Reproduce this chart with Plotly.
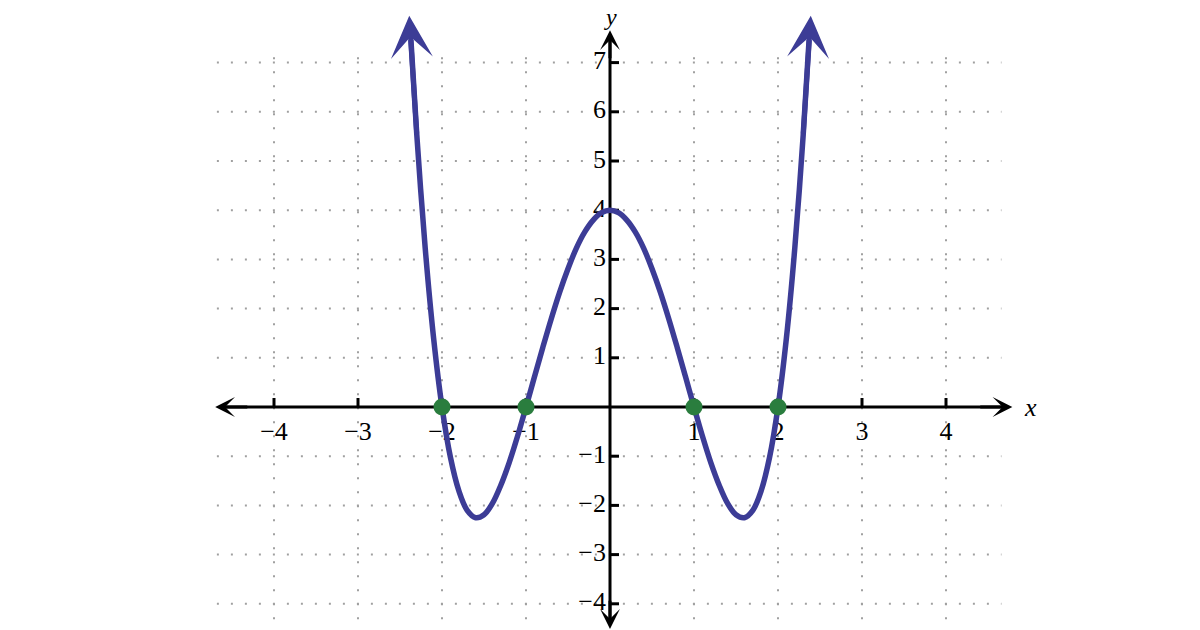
import plotly.graph_objects as go

# ---- data ----
curve_x = [-2.37, -2.3, -2.2, -2.1, -2.0, -1.9, -1.8, -1.7, -1.6, -1.5, -1.4, -1.3, -1.2, -1.1,
           -1.0, -0.9, -0.8, -0.7, -0.6, -0.5, -0.4, -0.3, -0.2, -0.1, 0.0,
           0.1, 0.2, 0.3, 0.4, 0.5, 0.6, 0.7, 0.8, 0.9, 1.0, 1.1, 1.2, 1.3, 1.4, 1.5,
           1.6, 1.7, 1.8, 1.9, 2.0, 2.1, 2.2, 2.3, 2.37]
curve_y = [7.46, 5.53, 3.23, 1.40, 0.0, -1.02, -1.70, -2.10, -2.25, -2.19, -1.96, -1.59, -1.13, -0.59,
           0.0, 0.61, 1.21, 1.79, 2.33, 2.81, 3.23, 3.56, 3.80, 3.95, 4.0,
           3.95, 3.80, 3.56, 3.23, 2.81, 2.33, 1.79, 1.21, 0.61, 0.0, -0.59, -1.13, -1.59, -1.96, -2.19,
           -2.25, -2.10, -1.70, -1.02, 0.0, 1.40, 3.23, 5.53, 7.46]
zeros_x = [-2, -1, 1, 2]
zeros_y = [0, 0, 0, 0]
arrow_tips_x = [-2.39, 2.39]
arrow_tips_y = [7.95, 7.95]

x_ticks = [-4, -3, -2, -1, 1, 2, 3, 4]
x_tick_labels = ["\u22124", "\u22123", "\u22122", "\u22121", "1", "2", "3", "4"]
y_ticks = [-4, -3, -2, -1, 1, 2, 3, 4, 5, 6, 7]
y_tick_labels = ["\u22124", "\u22123", "\u22122", "\u22121", "1", "2", "3", "4", "5", "6", "7"]

# ---- styling ----
CURVE = "rgb(60,60,150)"
DOT = "rgb(42,125,62)"
GRID = "#a0a0a0"
FONT = "Liberation Serif"
PX_X = 84.0   # pixels per x unit
PX_Y = 49.2   # pixels per y unit

X_RANGE = [-610 / PX_X, 590 / PX_X]
Y_RANGE = [-223 / PX_Y, 407 / PX_Y]
GRID_X_EXT = [-4.68, 4.66]
GRID_Y_EXT = [-4.6, 7.3]
XAXIS_EXT = [-4.70, 4.79]
YAXIS_EXT = [-4.51, 7.66]

fig = go.Figure()

# grid
gx, gy = [], []
for t in x_ticks:
    gx += [t, t, None]
    gy += [GRID_Y_EXT[0], GRID_Y_EXT[1], None]
for t in y_ticks:
    gx += [GRID_X_EXT[0], GRID_X_EXT[1], None]
    gy += [t, t, None]
fig.add_trace(go.Scatter(x=gx, y=gy, mode="lines", hoverinfo="skip",
                         line=dict(color=GRID, width=2, dash="2px,12px")))

# axes lines
fig.add_trace(go.Scatter(x=[XAXIS_EXT[0] + 0.1, XAXIS_EXT[1] - 0.1], y=[0, 0], mode="lines",
                         line=dict(color="black", width=3), hoverinfo="skip"))
fig.add_trace(go.Scatter(x=[0, 0], y=[YAXIS_EXT[0] + 0.2, YAXIS_EXT[1] - 0.2], mode="lines",
                         line=dict(color="black", width=3), hoverinfo="skip"))

# tick marks
tx, ty = [], []
for t in x_ticks:
    tx += [t, t, None]
    ty += [0, 9 / PX_Y, None]
for t in y_ticks:
    tx += [0, 9 / PX_X, None]
    ty += [t, t, None]
fig.add_trace(go.Scatter(x=tx, y=ty, mode="lines", line=dict(color="black", width=3),
                         hoverinfo="skip"))

# tick labels
fig.add_trace(go.Scatter(x=x_ticks, y=[-26 / PX_Y] * len(x_ticks), mode="text",
                         text=x_tick_labels, textposition="middle center",
                         textfont=dict(family=FONT, size=26, color="black"), hoverinfo="skip"))
fig.add_trace(go.Scatter(x=[-4 / PX_X] * len(y_ticks), y=y_ticks, mode="text",
                         text=y_tick_labels, textposition="middle left",
                         textfont=dict(family=FONT, size=26, color="black"), hoverinfo="skip"))

# curve
fig.add_trace(go.Scatter(x=curve_x, y=curve_y, mode="lines",
                         line=dict(color=CURVE, width=5.5, shape="spline", smoothing=1.0),
                         hoverinfo="skip"))

# zeros
fig.add_trace(go.Scatter(x=zeros_x, y=zeros_y, mode="markers",
                         marker=dict(color=DOT, size=17, line=dict(width=0)), hoverinfo="skip"))

annotations = []
# axis arrowheads
for (tipx, tipy, tailx, taily) in [(XAXIS_EXT[0], 0, XAXIS_EXT[0] + 0.4, 0),
                                   (XAXIS_EXT[1], 0, XAXIS_EXT[1] - 0.4, 0),
                                   (0, YAXIS_EXT[1], 0, YAXIS_EXT[1] - 0.6),
                                   (0, YAXIS_EXT[0], 0, YAXIS_EXT[0] + 0.6)]:
    annotations.append(dict(x=tipx, y=tipy, ax=tailx, ay=taily, xref="x", yref="y",
                            axref="x", ayref="y", text="", showarrow=True,
                            arrowhead=3, arrowsize=1.1, arrowwidth=3, arrowcolor="black"))
# curve arrowheads
for i, (tipx, tipy) in enumerate(zip(arrow_tips_x, arrow_tips_y)):
    k = 1 if i == 0 else len(curve_x) - 2
    annotations.append(dict(x=tipx, y=tipy, ax=curve_x[k], ay=curve_y[k], xref="x", yref="y",
                            axref="x", ayref="y", text="", showarrow=True,
                            arrowhead=3, arrowsize=1.4, arrowwidth=5, arrowcolor=CURVE))
# axis titles
annotations.append(dict(x=5.0, y=0, xref="x", yref="y", text="<i>x</i>", showarrow=False,
                        font=dict(family=FONT, size=26, color="black")))
annotations.append(dict(x=0, y=7.92, xref="x", yref="y", text="<i>y</i>", showarrow=False,
                        font=dict(family=FONT, size=24, color="black")))

fig.update_layout(
    width=1200, height=630,
    margin=dict(l=0, r=0, t=0, b=0),
    paper_bgcolor="white", plot_bgcolor="white",
    showlegend=False,
    xaxis=dict(range=X_RANGE, visible=False, fixedrange=True),
    yaxis=dict(range=Y_RANGE, visible=False, fixedrange=True),
    annotations=annotations,
)

fig.write_html("out.html", config={"displayModeBar": False},
               post_script="document.body.style.margin='0';")
